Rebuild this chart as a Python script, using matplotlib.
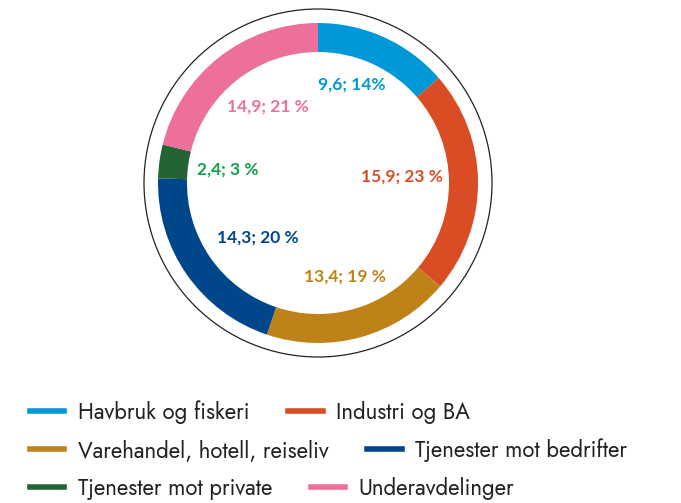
import matplotlib
matplotlib.use('Agg')
import matplotlib.pyplot as plt
from matplotlib.lines import Line2D
from matplotlib.patches import Circle

plt.rcParams['font.family'] = ['Lato', 'DejaVu Sans']

# sektorer, verdier (mrd. kr) og andeler
kategorier = ['Havbruk og fiskeri', 'Industri og BA', 'Varehandel, hotell, reiseliv',
              'Tjenester mot bedrifter', 'Tjenester mot private', 'Underavdelinger']
verdier = [9.6, 15.9, 13.4, 14.3, 2.4, 14.9]
etiketter = ['9,6; 14%', '15,9; 23 %', '13,4; 19 %', '14,3; 20 %', '2,4; 3 %', '14,9; 21 %']

farger = ['#0098d6', '#d94c24', '#be8219', '#00468a', '#236334', '#ec6f9c']
tekstfarger = ['#0098d6', '#d94c24', '#be8219', '#00468a', '#12a04b', '#ec6f9c']
# etikettplassering i piksler (x, y fra toppen)
etikett_pos = [(352, 85), (402, 177), (345, 277), (258, 238), (228, 170), (268, 107)]

W, H = 681, 503
fig = plt.figure(figsize=(W / 100, H / 100), dpi=100)
ax = fig.add_axes([0, 0, 1, 1])

cx, cy = 318, H - 183
ax.pie(verdier, colors=farger, startangle=90, counterclock=False,
       center=(cx, cy), radius=160, frame=True,
       wedgeprops=dict(width=29, linewidth=0))
ax.set_xlim(0, W)
ax.set_ylim(0, H)
ax.set_aspect('equal')
ax.axis('off')
ax.add_patch(Circle((cx, cy), 174, fill=False, edgecolor='#222222', linewidth=0.9))

for tekst, (x, y), c in zip(etiketter, etikett_pos, tekstfarger):
    ax.text(x, H - y, tekst, color=c, fontsize=12.5, fontweight='bold',
            ha='center', va='center')

# tegnforklaring, to oppføringer per rad
rader = [(0, 1, 412), (2, 3, 450), (4, 5, 488)]
for a, b, y in rader:
    handles = [Line2D([], [], color=farger[i], linewidth=4) for i in (a, b)]
    fig.legend(handles, [kategorier[a], kategorier[b]], ncol=2,
               loc='center left', bbox_to_anchor=(30 / W, 1 - y / H),
               frameon=False,
               prop=dict(family=['Jost', 'Lato', 'DejaVu Sans'], size=16),
               handlelength=1.55, handletextpad=0.6, columnspacing=1.75,
               borderpad=0, borderaxespad=0, labelcolor='#222222')

fig.savefig('out.png', dpi=100)
